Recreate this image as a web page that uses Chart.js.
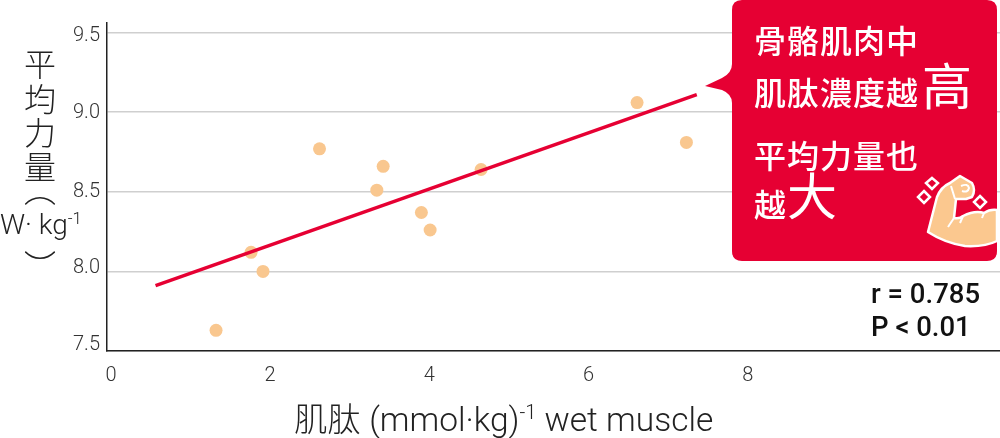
<!DOCTYPE html>
<html>
<head>
<meta charset="utf-8">
<script src="https://cdn.jsdelivr.net/npm/chart.js@4"></script>
<style>
  html, body { margin: 0; padding: 0; background: #fff; }
  #wrap { position: relative; width: 1000px; height: 438px; overflow: hidden; font-family: Roboto, "Noto Sans CJK TC", sans-serif; }
  canvas { position: absolute; left: 0; top: 0; }
  svg { position: absolute; left: 0; top: 0; }
  .txt { position: absolute; white-space: nowrap; line-height: 1; }
  .cjk { font-family: "Noto Sans CJK TC", sans-serif; }
  .call { color: #fff; font-size: 32px; font-weight: 500; letter-spacing: 1px; }
  .call b { font-size: 50px; font-weight: 400; letter-spacing: 0; }
  .ylab { color: #222; font-size: 32px; font-weight: 300; left: 23px; width: 34px; text-align: center; }
  sup { font-size: 0.6em; line-height: 0; }
</style>
</head>
<body>
<div id="wrap">
  <canvas id="chart" width="1000" height="438"></canvas>
  <svg width="1000" height="438">
    <path d="M742 0H987Q997 0 997 10V251Q997 261 987 261H742Q732 261 732 251V103Q732 94 722 90L705 86L722 78Q732 73 732 64V10Q732 0 742 0Z" fill="#e60033"/>
    <path d="M928 232L937 197Q941 187 950 183L960 176L972 183Q976 190 972 197L966 199L956 199L954 218Q960 219 963 216Q975 210 984 213Q990 209 997 210V241Q985 247 965 246Q945 243 928 232Z" fill="#fbc88f" stroke="#fff" stroke-width="2.5" stroke-linejoin="round"/>
    <path d="M955 199L951 186M954 218L948 227M963 216L960 223M984 213L982 218M961 186Q968 183 969 188Q968 193 962 191" fill="none" stroke="#fff" stroke-width="2"/>
    <path d="M932 178L938 183L932 189L926 183Z M924 191L930 197L924 203L918 197Z M980 196L986 202L980 208L974 202Z" fill="none" stroke="#fff" stroke-width="2.5"/>
  </svg>

  <div class="txt cjk call" style="left:754px;top:23px">骨骼肌肉中</div>
  <div class="txt cjk call" style="left:754px;top:75px">肌肽濃度越<b style="position:absolute;left:168px;top:-17px">高</b></div>
  <div class="txt cjk call" style="left:754px;top:138px">平均力量也</div>
  <div class="txt cjk call" style="left:754px;top:187px">越<b style="position:absolute;left:33px;top:-19px">大</b></div>

  <div class="txt" style="left:871px;top:280px;font-size:27.5px;font-weight:500;color:#111">r = 0.785</div>
  <div class="txt" style="left:871px;top:313px;font-size:27.5px;font-weight:500;color:#111">P &lt; 0.01</div>

  <div class="txt cjk ylab" style="top:46px">平</div>
  <div class="txt cjk ylab" style="top:81px">均</div>
  <div class="txt cjk ylab" style="top:115px">力</div>
  <div class="txt cjk ylab" style="top:149px">量</div>
  <div class="txt cjk ylab" style="top:172px">︵</div>
  <div class="txt cjk ylab" style="top:248px">︶</div>
  <div class="txt" style="left:0;top:211px;font-size:28px;font-weight:300;color:#222">W· kg<sup>-1</sup></div>

  <div class="txt" style="left:294px;top:400px;font-size:33.5px;font-weight:300;color:#222"><span class="cjk">肌肽</span> (mmol·kg)<sup>-1</sup> wet muscle</div>
</div>
<script>
var xTicks = [0, 2, 4, 6, 8];
var yTicks = [7.5, 8.0, 8.5, 9.0, 9.5];
var carnosine = [1.32, 1.76, 1.91, 2.62, 3.34, 3.42, 3.90, 4.01, 4.65, 6.61, 7.23];
var power = [7.63, 8.12, 8.00, 8.77, 8.51, 8.66, 8.37, 8.26, 8.64, 9.06, 8.81];
var fitX = [0.56, 7.36];
var fitY = [7.91, 9.11];

function pairs(xs, ys) {
    return xs.map(function(x, i) { return { x: x, y: ys[i] }; });
}

var tickFont = { family: 'Roboto', size: 20, weight: '300' };

// the y labels in the original sit a bit off their grid lines
var yLabelNudge = [-6, -3, 0, 1, 3];

new Chart(document.getElementById('chart').getContext('2d'), {
    type: 'scatter',
    data: {
        datasets: [
            {
                type: 'line',
                data: pairs(fitX, fitY),
                borderColor: '#e60033',
                borderWidth: 3.5,
                pointRadius: 0,
                order: 0
            },
            {
                data: pairs(carnosine, power),
                backgroundColor: '#f9c78f',
                borderWidth: 0,
                pointRadius: 6.5,
                order: 1
            }
        ]
    },
    options: {
        responsive: false,
        animation: false,
        layout: { autoPadding: false, padding: { top: 23, left: 0, right: 0, bottom: 0 } },
        plugins: { legend: { display: false }, tooltip: { enabled: false } },
        scales: {
            x: {
                type: 'linear',
                min: -0.05,
                max: 11.17,
                afterBuildTicks: function(s) { s.ticks = xTicks.map(function(v) { return { value: v }; }); },
                afterFit: function(s) { s.height = 87; s.paddingLeft = 0; s.paddingRight = 0; },
                grid: { display: false },
                border: { color: '#222', width: 1.5 },
                ticks: { font: tickFont, color: '#333', padding: 5, maxRotation: 0, autoSkip: false }
            },
            y: {
                type: 'linear',
                min: 7.5,
                max: 9.56,
                afterBuildTicks: function(s) { s.ticks = yTicks.map(function(v) { return { value: v }; }); },
                afterFit: function(s) {
                    s.width = 107;
                    s.paddingTop = 0;
                    s.paddingBottom = 0;
                    if (!s._nudged) {
                        var orig = s._computeLabelItems;
                        s._computeLabelItems = function(area) {
                            var items = orig.call(s, area);
                            items.forEach(function(it, i) { it.options.translation[1] += yLabelNudge[i]; });
                            return items;
                        };
                        s._nudged = true;
                    }
                },
                grid: { color: '#cfcfcf', lineWidth: 1.5, drawTicks: false },
                border: { color: '#222', width: 1.5 },
                ticks: {
                    font: tickFont,
                    color: '#333',
                    padding: 7,
                    autoSkip: false,
                    callback: function(v) { return v.toFixed(1); }
                }
            }
        }
    }
});
</script>
</body>
</html>
